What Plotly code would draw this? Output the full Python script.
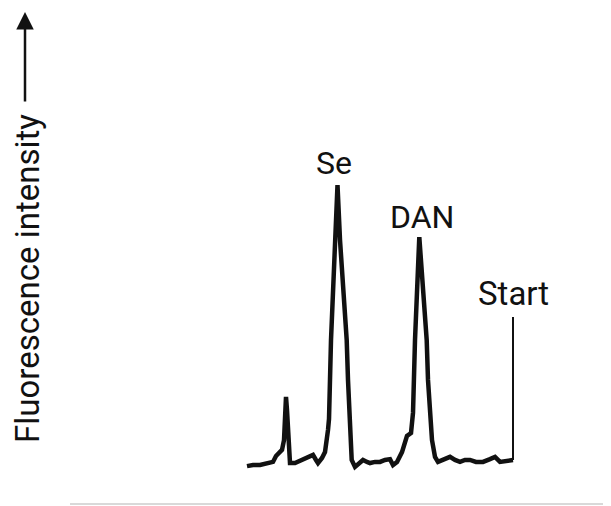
import plotly.graph_objects as go

# Chromatogram.
# time: retention time in arbitrary units, counted from the Start mark (0) to the left
# intensity: fluorescence intensity in % of the Se peak
time = [26.6, 26.0, 25.3, 24.7, 24.0, 23.7, 23.4, 23.1, 22.9, 22.7, 22.6, 22.5, 22.4, 22.3,
        21.8, 21.3, 21.0, 20.5, 20.0, 19.7, 19.5, 19.1, 18.8, 18.5, 18.4, 18.2, 17.8,
        17.55, 17.3, 16.63, 16.5, 16.13, 15.8, 15.4, 15.0, 14.6, 14.3, 13.8, 13.3, 12.8,
        12.3, 12.0, 11.6, 11.1, 10.8, 10.6, 10.2, 10.0, 9.8, 9.37, 8.63, 8.5, 8.1, 7.8,
        7.5, 6.9, 6.3, 5.8, 5.3, 4.8, 4.3, 3.7, 3.0, 2.3, 1.8, 1.3, 0.6, 0.0]
intensity = [-0.4, 0.0, 0.0, 0.7, 1.1, 3.2, 4.6, 5.4, 8.9, 24.3, 19.6, 12.5, 5.4, 0.7,
             0.7, 1.4, 1.8, 2.5, 3.6, 1.8, 0.7, 2.5, 4.6, 12.5, 16.4, 44.6, 80.4,
             100.0, 80.4, 44.6, 30.4, 1.8, -0.7, 0.7, 1.8, 1.1, 0.7, 1.1, 1.1, 1.8,
             2.1, 0.0, 1.1, 4.6, 8.9, 10.4, 11.4, 18.6, 44.6, 81.4, 44.6, 30.4, 8.9, 2.9,
             1.1, 1.8, 2.9, 1.8, 1.1, 1.8, 1.8, 1.1, 1.1, 2.1, 2.9, 1.1, 1.4, 1.8]

start_time = [0.0, 0.0]
start_intensity = [1.8, 52.9]

peak_labels = ["Se", "DAN", "Start"]
peak_label_time = [17.9, 9.15, -0.05]
peak_label_intensity = [108.0, 88.6, 61.3]

y_title = "Fluorescence intensity"

# the page body has an 8 px margin, so positions are given relative to the page
OFF = 8
W, H = 611, 506

fig = go.Figure()
fig.add_trace(go.Scatter(x=time, y=intensity, mode="lines",
                         line=dict(color="#111111", width=4.5, shape="linear"),
                         hoverinfo="skip", showlegend=False))
fig.add_trace(go.Scatter(x=start_time, y=start_intensity, mode="lines",
                         line=dict(color="#111111", width=2),
                         hoverinfo="skip", showlegend=False))

label_sizes = [32, 32, 33]
for lab, t, v, s in zip(peak_labels, peak_label_time, peak_label_intensity, label_sizes):
    fig.add_annotation(x=t, y=v, text=lab, showarrow=False,
                       font=dict(family="Roboto", size=s, color="#111111"),
                       xanchor="center", yanchor="middle")

# y-axis title with arrow
fig.add_annotation(xref="paper", yref="paper", x=(27 - OFF) / W, y=1 - (279 - OFF) / H,
                   text=y_title, textangle=-90, showarrow=False,
                   font=dict(family="Roboto", size=33, color="#111111"),
                   xanchor="center", yanchor="middle")
fig.add_annotation(xref="paper", yref="paper", x=(25 - OFF) / W, y=1 - (12 - OFF) / H,
                   ax=0, ay=91, text="", showarrow=True,
                   arrowhead=2, arrowsize=1.4, arrowwidth=2.5, arrowcolor="#111111")

# faint bottom rule of the scanned page
fig.add_shape(type="line", xref="paper", yref="paper", x0=(70 - OFF) / W, x1=1,
              y0=1 - (504 - OFF) / H, y1=1 - (504 - OFF) / H,
              line=dict(color="#cccccc", width=1.5))

# x: page px = 513 - 10*t ; y: page px = 465 - 2.8*I
x_lo = (513 - OFF) / 10
x_hi = (513 - (W + OFF)) / 10
y_top = (465 - OFF) / 2.8
y_bot = (465 - (H + OFF)) / 2.8

fig.update_layout(
    width=W, height=H,
    margin=dict(l=0, r=0, t=0, b=0),
    paper_bgcolor="white", plot_bgcolor="white",
    xaxis=dict(range=[x_lo, x_hi], visible=False, showgrid=False, zeroline=False),
    yaxis=dict(range=[y_bot, y_top], visible=False, showgrid=False, zeroline=False),
)

fig.write_html("out.html")
